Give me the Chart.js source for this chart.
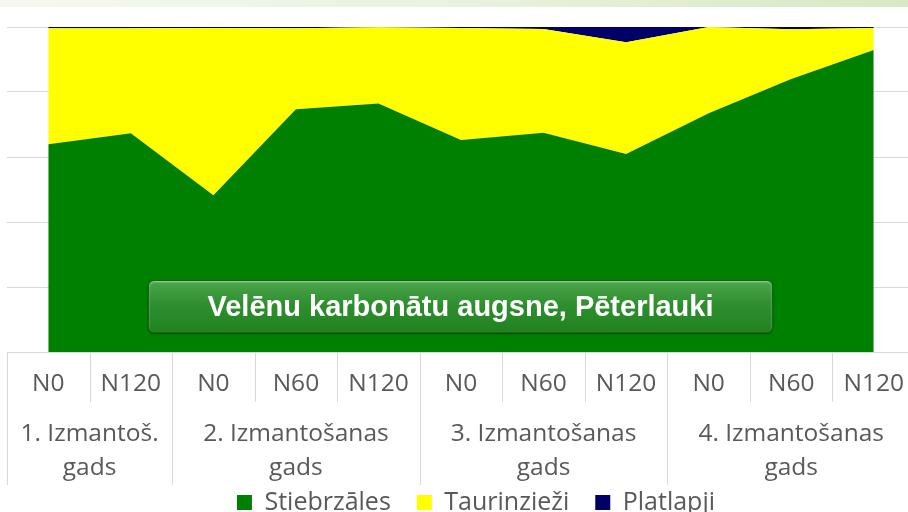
<!DOCTYPE html>
<html>
<head>
<meta charset="utf-8">
<script src="https://cdn.jsdelivr.net/npm/chart.js@4"></script>
<style>
  html, body { margin: 0; padding: 0; background: #fff; overflow: hidden; width: 908px; height: 512px; }
  #strip { position: absolute; left: 0; top: 0; width: 908px; height: 7px;
           background: linear-gradient(to right, #f5f8f0, #eaf2df 50%, #d9e8c3); }
  #wrap { position: absolute; left: 0; top: 0; width: 915px; height: 525px; }
  #badge { position: absolute; left: 148px; top: 280px; width: 623px; height: 51px;
           border: 1px solid #1d5e1d; border-radius: 6px;
           background: linear-gradient(to bottom, #4aa64a 0%, #2f8f2f 45%, #1f821f 100%);
           box-shadow: inset 0 1px 2px rgba(255,255,255,0.5), 0 1px 2px rgba(0,0,0,0.4);
           color: #fff; font: bold 29px "Liberation Sans", Arial, sans-serif;
           text-align: center; line-height: 51px; }
</style>
</head>
<body>
<div id="strip"></div>
<div id="wrap"><canvas id="chart"></canvas></div>
<div id="badge">Velēnu karbonātu augsne, Pēterlauki</div>
<script>
const doses = ["N0", "N120", "N0", "N60", "N120", "N0", "N60", "N120", "N0", "N60", "N120"]
const years = [["1. Izmantoš.", "gads"], ["2. Izmantošanas", "gads"], ["3. Izmantošanas", "gads"], ["4. Izmantošanas", "gads"]]
const yearSpan = [2, 3, 3, 3]
const stiebrzales = [63.9, 67.3, 48.2, 74.7, 76.5, 65.2, 67.5, 60.9, 73.5, 84.0, 92.9]
const taurinziezi = [35.7, 32.3, 51.5, 24.9, 23.4, 34.5, 31.9, 34.4, 26.5, 15.3, 6.8]
const platlapji = [0.4, 0.4, 0.3, 0.4, 0.1, 0.3, 0.6, 4.7, 0.0, 0.7, 0.3]

const axisColor = "#d9d9d9"
const textColor = "#595959"
const labelFont = "24.5px 'Open Sans', sans-serif"

// draws the two-level category axis under the plot
const groupAxis = {
    id: "groupAxis",
    afterLayout(chart) {
        // the legend sits a little right of centre in the original
        chart.legend.left += 15
        chart.legend.right += 15
    },
    afterDraw(chart) {
        const ctx = chart.ctx
        const x = chart.scales.x
        const area = chart.chartArea
        const half = (x.getPixelForValue(1) - x.getPixelForValue(0)) / 2
        const top = area.bottom
        ctx.save()
        ctx.strokeStyle = axisColor
        ctx.lineWidth = 1
        ctx.beginPath()
        ctx.moveTo(area.left, top + 0.5)
        ctx.lineTo(area.right, top + 0.5)
        ctx.stroke()

        ctx.fillStyle = textColor
        ctx.font = labelFont
        ctx.textAlign = "center"
        ctx.textBaseline = "middle"
        doses.forEach((d, i) => {
            ctx.fillText(d, x.getPixelForValue(i), top + 32)
        })

        let start = 0
        yearSpan.forEach((n, g) => {
            const left = x.getPixelForValue(start) - half
            const right = x.getPixelForValue(start + n - 1) + half
            ctx.beginPath()
            ctx.moveTo(Math.round(left) + 0.5, top)
            ctx.lineTo(Math.round(left) + 0.5, top + 133)
            for (let k = 1; k < n; k++) {
                const b = Math.round(x.getPixelForValue(start + k) - half) + 0.5
                ctx.moveTo(b, top)
                ctx.lineTo(b, top + 50)
            }
            ctx.stroke()
            const cx = (left + right) / 2
            years[g].forEach((line, j) => {
                ctx.fillText(line, cx, top + 82 + j * 34)
            })
            start += n
        })
        ctx.restore()
    }
}

const chart = new Chart(document.getElementById("chart"), {
    type: "line",
    plugins: [groupAxis],
    data: {
        labels: doses,
        datasets: [
            {label: "Stiebrzāles", data: stiebrzales, backgroundColor: "#008000", borderColor: "#008000", fill: "origin"},
            {label: "Taurinzieži", data: taurinziezi, backgroundColor: "#ffff00", borderColor: "#ffff00", fill: "-1"},
            {label: "Platlapji", data: platlapji, backgroundColor: "#000066", borderColor: "#000066", fill: "-1"},
        ],
    },
    options: {
        responsive: true,
        maintainAspectRatio: false,
        animation: false,
        elements: {
            point: {radius: 0},
            line: {borderWidth: 0, tension: 0},
        },
        layout: {padding: {left: 7, top: 27, right: 0, bottom: 0}},
        scales: {
            x: {
                offset: true,
                grid: {display: false},
                border: {display: false},
                ticks: {display: false},
                afterFit: (s) => { s.height = 112 },
            },
            y: {
                stacked: true,
                min: 0,
                max: 100,
                ticks: {display: false, stepSize: 20},
                border: {display: false},
                grid: {color: axisColor, drawTicks: false},
                afterFit: (s) => { s.width = 0 },
            },
        },
        plugins: {
            tooltip: {enabled: false},
            legend: {
                position: "bottom",
                labels: {
                    boxWidth: 15,
                    boxHeight: 15,
                    padding: 26,
                    color: textColor,
                    font: {size: 25, family: "'Open Sans', sans-serif"},
                },
            },
        },
    },
})
</script>
</body>
</html>
